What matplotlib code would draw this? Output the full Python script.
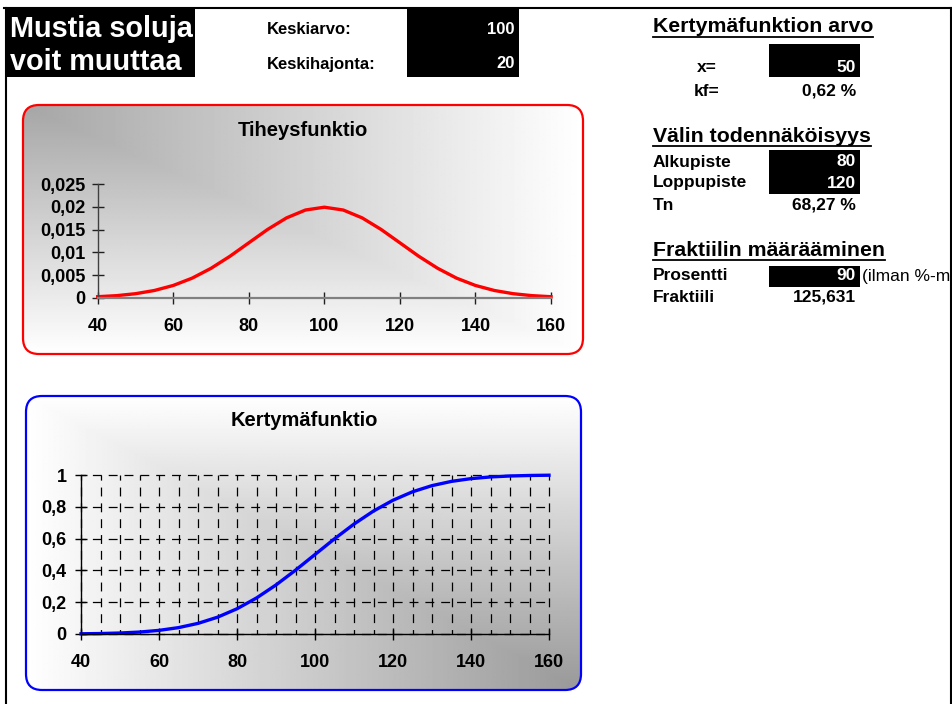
import numpy as np
import matplotlib.pyplot as plt
from matplotlib.patches import FancyBboxPatch, Rectangle
from matplotlib.ticker import FuncFormatter, MultipleLocator

plt.rcParams['font.family'] = ['Liberation Sans', 'DejaVu Sans']
plt.rcParams['font.weight'] = 'bold'
plt.rcParams['lines.scale_dashes'] = False

W, H = 952, 704

# normal distribution, mean 100, sd 20, sampled every 5 units
x_vals = [40, 45, 50, 55, 60, 65, 70, 75, 80, 85, 90, 95, 100,
          105, 110, 115, 120, 125, 130, 135, 140, 145, 150, 155, 160]
density = [0.00022, 0.00045, 0.00088, 0.00159, 0.00270, 0.00431, 0.00648,
           0.00913, 0.01210, 0.01506, 0.01760, 0.01933, 0.01995, 0.01933,
           0.01760, 0.01506, 0.01210, 0.00913, 0.00648, 0.00431, 0.00270,
           0.00159, 0.00088, 0.00045, 0.00022]
cumulative = [0.0013, 0.0030, 0.0062, 0.0122, 0.0228, 0.0401, 0.0668,
              0.1056, 0.1587, 0.2266, 0.3085, 0.4013, 0.5000, 0.5987,
              0.6915, 0.7734, 0.8413, 0.8944, 0.9332, 0.9599, 0.9772,
              0.9878, 0.9938, 0.9970, 0.9987]

x_ticks = [40, 60, 80, 100, 120, 140, 160]
density_ticks = [0, 0.005, 0.01, 0.015, 0.02, 0.025]
cumulative_ticks = [0, 0.2, 0.4, 0.6, 0.8, 1]

input_labels = ['Keskiarvo:', 'Keskihajonta:']
input_values = ['100', '20']

fig = plt.figure(figsize=(W / 100, H / 100), dpi=100)
canvas = fig.add_axes([0, 0, 1, 1])
canvas.set_xlim(0, W)
canvas.set_ylim(H, 0)
canvas.axis('off')


def px_axes(x0, y0, x1, y1):
    return fig.add_axes([x0 / W, 1 - y1 / H, (x1 - x0) / W, (y1 - y0) / H])


def black_box(x0, y0, x1, y1):
    canvas.add_patch(Rectangle((x0, y0), x1 - x0, y1 - y0, fc='black', ec='none', zorder=1))


def label(x, y, s, size=12.5, color='black', ha='left', weight='bold'):
    return canvas.text(x, y, s, fontsize=size, color=color, ha=ha, va='center',
                       fontweight=weight, zorder=3)


def header(x, y, s):
    t = label(x, y, s, size=15.3)
    fig.canvas.draw()
    bb = t.get_window_extent()
    canvas.plot([bb.x0, bb.x1], [y + 10, y + 10], color='black', lw=1.3, zorder=3)


def panel(x0, y0, x1, y1, edge, dark, corner):
    u = np.linspace(0, 1, 400)[None, :]
    v = np.linspace(0, 1, 200)[:, None]
    if corner == 'top-left':
        t = np.maximum(u, v)
    else:
        t = np.maximum(1 - u, 1 - v)
    shade = dark + (1 - dark) * t
    img = canvas.imshow(shade, cmap='gray', vmin=0, vmax=1, extent=(x0, x1, y1, y0),
                        aspect='auto', interpolation='bilinear', zorder=1)
    box = FancyBboxPatch((x0, y0), x1 - x0, y1 - y0,
                         boxstyle='round,pad=0,rounding_size=16',
                         transform=canvas.transData, fc='none', ec=edge, lw=1.6, zorder=2)
    canvas.add_patch(box)
    img.set_clip_path(box)


comma = FuncFormatter(lambda val, pos: f'{val:g}'.replace('.', ','))

# sheet borders
canvas.plot([4, W], [8, 8], color='black', lw=1.5, zorder=4)
canvas.plot([6, 6], [8, H], color='black', lw=1.5, zorder=4)
canvas.plot([950.5, 950.5], [8, H], color='black', lw=1.5, zorder=4)

# input cells
black_box(6, 8, 195, 77)
label(10, 29, 'Mustia soluja', size=20.8, color='white')
label(10, 62, 'voit muuttaa', size=20.8, color='white')
black_box(407, 8, 519, 77)
for row_y, name, val in zip([29, 64], input_labels, input_values):
    label(267, row_y, name, size=12)
    label(515, row_y, val, size=12, color='white', ha='right')

# right-hand calculations
header(653, 27, 'Kertymäfunktion arvo')
black_box(769, 44, 860, 77)
label(707, 67, 'x=', ha='center')
label(856, 67, '50', color='white', ha='right')
label(707, 91, 'kf=', ha='center')
label(856, 91, '0,62 %', ha='right')

header(653, 136, 'Välin todennäköisyys')
black_box(769, 150, 860, 194)
label(653, 162, 'Alkupiste')
label(856, 162, '80', color='white', ha='right')
label(653, 183, 'Loppupiste')
label(856, 183, '120', color='white', ha='right')
label(653, 205, 'Tn')
label(856, 205, '68,27 %', ha='right')

header(653, 250, 'Fraktiilin määrääminen')
black_box(769, 266, 860, 287)
label(653, 276, 'Prosentti')
label(856, 276, '90', color='white', ha='right')
label(862, 276, '(ilman %-m', weight='normal')
label(653, 297, 'Fraktiili')
label(856, 297, '125,631', ha='right')

# chart backgrounds
panel(23, 105, 583, 354, '#ff0000', 0.65, 'top-left')
panel(26, 396, 581, 690, '#0000ff', 0.60, 'bottom-right')
label(303, 131, 'Tiheysfunktio', size=14.5, ha='center')
label(304, 421, 'Kertymäfunktio', size=14.5, ha='center')

# density chart
ax1 = px_axes(97.7, 184.3, 551, 297.7)
ax1.set_facecolor('none')
ax1.plot(x_vals, density, color='#ff0000', lw=2.4, clip_on=False, solid_joinstyle='round')
ax1.set_xlim(40, 160)
ax1.set_ylim(0, 0.025)
ax1.set_xticks(x_ticks)
ax1.set_yticks(density_ticks)
ax1.xaxis.set_major_formatter(comma)
ax1.yaxis.set_major_formatter(comma)
for side in ['top', 'right']:
    ax1.spines[side].set_visible(False)
ax1.spines['bottom'].set_color('#808080')
ax1.spines['bottom'].set_linewidth(1.6)
ax1.spines['left'].set_color('#404040')
ax1.spines['left'].set_linewidth(1)
ax1.tick_params(direction='inout', length=8, width=1, color='#202020', labelsize=13)
ax1.tick_params(axis='x', pad=10.5)
ax1.tick_params(axis='y', pad=5)

# cumulative chart
ax2 = px_axes(81, 475, 549, 634)
ax2.set_facecolor('none')
ax2.plot(x_vals, cumulative, color='#0000ff', lw=2.4, clip_on=False, solid_joinstyle='round')
ax2.set_xlim(40, 160)
ax2.set_ylim(0, 1)
ax2.set_xticks(x_ticks)
ax2.xaxis.set_minor_locator(MultipleLocator(5))
ax2.set_yticks(cumulative_ticks)
ax2.xaxis.set_major_formatter(comma)
ax2.yaxis.set_major_formatter(comma)
for side in ['top', 'right']:
    ax2.spines[side].set_visible(False)
ax2.spines['bottom'].set_linewidth(1)
ax2.spines['left'].set_linewidth(1)
dash = (3.2, (6.4, 5.0))
ax2.grid(axis='x', which='both', color='black', lw=0.9, linestyle=dash)
ax2.grid(axis='y', which='major', color='black', lw=0.9, linestyle=dash)
ax2.tick_params(direction='inout', length=8.5, width=1, labelsize=13)
ax2.tick_params(which='minor', length=0)
ax2.tick_params(axis='x', pad=10.5)
ax2.tick_params(axis='y', pad=6)
for tick in (ax2.xaxis.get_major_ticks() + ax2.xaxis.get_minor_ticks()
             + ax2.yaxis.get_major_ticks()):
    tick.gridline.set_clip_on(False)

fig.savefig('out.png', dpi=100)
